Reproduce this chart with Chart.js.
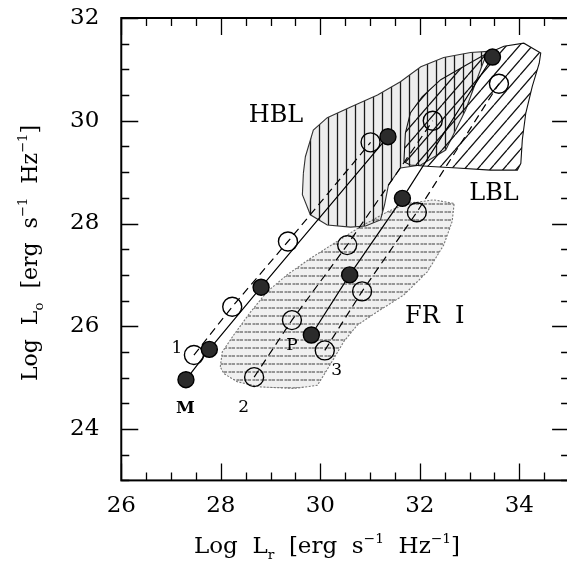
<!DOCTYPE html>
<html lang="en">
  <head>
    <meta charset="utf-8">
    <title>Log Lo vs Log Lr</title>
    <style> body {padding: 0; margin: 0; overflow: hidden; background: #fff;} </style>
    <script src="https://cdn.jsdelivr.net/npm/chart.js@4.4.0/dist/chart.umd.min.js"></script>
  </head>
  <body>
    <canvas id="lumChart" width="580" height="561"></canvas>
    <script>

      // evolutionary tracks, log L_r vs log L_o
      var trackMLr = [27.30, 27.77, 28.81, 31.36];
      var trackMLo = [24.96, 25.55, 26.76, 29.69];
      var trackPLr = [29.82, 30.59, 31.65, 33.46];
      var trackPLo = [25.83, 27.00, 28.49, 31.24];
      var track1Lr = [27.46, 28.23, 29.35, 31.01];
      var track1Lo = [25.44, 26.38, 27.65, 29.58];
      var track2Lr = [28.67, 29.43, 30.54, 32.26];
      var track2Lo = [25.01, 26.12, 27.58, 30.00];
      var track3Lr = [30.09, 30.84, 31.94, 33.59];
      var track3Lo = [25.53, 26.68, 28.22, 30.72];

      // source class regions (outlines)
      var hblLr = [29.66, 29.70, 29.86, 30.14, 30.61, 31.15, 31.61, 32.02, 32.48, 33.02, 33.36, 33.18,
                   32.92, 32.52, 32.02, 31.61, 31.37, 31.29, 31.21, 30.91, 30.61, 30.14, 29.80, 29.64];
      var hblLo = [28.98, 29.30, 29.82, 30.06, 30.27, 30.50, 30.76, 31.05, 31.23, 31.33, 31.35, 30.89,
                   30.21, 29.43, 29.14, 29.08, 28.75, 28.36, 28.07, 27.95, 27.93, 27.97, 28.17, 28.56];
      var lblLr = [31.68, 31.71, 31.81, 32.05, 32.42, 32.89, 33.29, 33.69, 34.09, 34.43, 34.40, 34.26,
                   34.13, 34.06, 34.03, 33.96, 33.42, 32.75, 32.22, 31.81];
      var lblLo = [29.20, 29.76, 30.15, 30.47, 30.80, 31.06, 31.28, 31.45, 31.51, 31.32, 31.12, 30.67,
                   30.15, 29.63, 29.17, 29.04, 29.04, 29.08, 29.11, 29.14];
      var fr1Lr = [27.99, 28.03, 28.26, 28.60, 28.93, 29.33, 29.80, 30.27, 30.81, 31.35, 31.75, 32.28,
                   32.69, 32.65, 32.48, 32.15, 31.68, 31.14, 30.74, 30.47, 30.27, 30.07, 29.94, 29.47,
                   28.80, 28.33, 28.06];
      var fr1Lo = [25.21, 25.50, 25.83, 26.28, 26.67, 27.00, 27.32, 27.61, 27.94, 28.23, 28.39, 28.46,
                   28.39, 28.04, 27.58, 27.06, 26.61, 26.28, 26.02, 25.70, 25.37, 25.05, 24.85, 24.79,
                   24.82, 24.92, 25.08];

      var regionNames = ['HBL', 'LBL', 'FR  I'];
      var regionLr = [29.11, 33.49, 32.30];
      var regionLo = [30.10, 28.57, 26.18];

      var tagNames = ['M', '1', '2', 'P', '3'];
      var tagLr = [27.29, 27.12, 28.46, 29.43, 30.33];
      var tagLo = [24.40, 25.57, 24.42, 25.63, 25.14];

      var xTickLabels = [26, 28, 30, 32, 34];
      var yTickLabels = [24, 26, 28, 30, 32];

      var serif = '"DejaVu Serif", serif';
      Chart.defaults.color = '#000';

      function pts(xs, ys) {
        var out = [];
        for (i = 0; i < xs.length; i++) out.push({x: xs[i], y: ys[i]});
        return out;
      }
      function loop(xs, ys) {
        var p = pts(xs, ys);
        p.push(p[0]);
        return p;
      }

      var ctx = document.getElementById('lumChart').getContext('2d');

      // hatch tiles
      function hatch(kind, w, h, color, lw, bg, dash) {
        var c = document.createElement('canvas');
        c.width = w; c.height = h;
        var g = c.getContext('2d');
        if (bg) { g.fillStyle = bg; g.fillRect(0, 0, w, h); }
        g.strokeStyle = color;
        g.lineWidth = lw;
        if (dash) g.setLineDash(dash);
        g.beginPath();
        if (kind === 'v') {
          g.moveTo(w / 2, 0); g.lineTo(w / 2, h);
        } else if (kind === 'h') {
          g.moveTo(0, h / 2); g.lineTo(w, h / 2);
        } else {
          g.moveTo(-w, h); g.lineTo(0, 0);
          g.moveTo(0, h); g.lineTo(w, 0);
          g.moveTo(w, h); g.lineTo(2 * w, 0);
        }
        g.stroke();
        return ctx.createPattern(c, 'repeat');
      }

      function region(label, data, pattern, edge, dash) {
        return {
          label: label, data: data, order: 10,
          borderColor: edge, borderWidth: 1.1, borderDash: dash || [],
          backgroundColor: pattern, fill: 'shape',
          pointRadius: 0, tension: 0
        };
      }

      function track(label, data, filled) {
        return {
          label: label, data: data, order: filled ? 2 : 3,
          borderColor: '#000', borderWidth: 1.2,
          borderDash: filled ? [] : [8, 5],
          fill: false, tension: 0,
          pointRadius: filled ? 8 : 9.5,
          pointBorderWidth: 1.4,
          pointBorderColor: '#000',
          pointBackgroundColor: filled ? '#2b2b2b' : 'rgba(0,0,0,0)'
        };
      }

      // inward ticks on all four sides plus the frame
      var frameTicks = {
        id: 'frameTicks',
        afterDraw: function(chart) {
          var a = chart.chartArea, g = chart.ctx;
          var sx = chart.scales.x, sy = chart.scales.y;
          g.save();
          g.strokeStyle = '#000';
          g.lineWidth = 1.3;
          g.beginPath();
          for (var v = sx.min; v <= sx.max + 1e-6; v += 0.5) {
            var px = Math.round(sx.getPixelForValue(v)) + 0.5;
            var len = (Math.abs(v % 2) < 1e-6) ? 17 : 8;
            g.moveTo(px, a.bottom); g.lineTo(px, a.bottom - len);
            g.moveTo(px, a.top); g.lineTo(px, a.top + len);
          }
          for (var w = sy.min; w <= sy.max + 1e-6; w += 0.5) {
            var py = Math.round(sy.getPixelForValue(w)) + 0.5;
            var l2 = (Math.abs(w % 2) < 1e-6) ? 17 : 8;
            g.moveTo(a.left, py); g.lineTo(a.left + l2, py);
            g.moveTo(a.right, py); g.lineTo(a.right - l2, py);
          }
          g.stroke();
          g.lineWidth = 2;
          g.strokeRect(a.left, a.top, a.right - a.left, a.bottom - a.top);
          g.restore();
        }
      };

      // draw text made of normal / super / subscript pieces
      function richText(g, parts, size) {
        var total = 0;
        parts.forEach(function(p) {
          g.font = (p[1] ? size * 0.6 : size) + 'px ' + serif;
          total += g.measureText(p[0]).width;
        });
        var x = -total / 2;
        parts.forEach(function(p) {
          g.font = (p[1] ? size * 0.6 : size) + 'px ' + serif;
          var dy = p[1] < 0 ? -size * 0.45 : (p[1] > 0 ? size * 0.28 : 0);
          g.fillText(p[0], x, dy);
          x += g.measureText(p[0]).width;
        });
      }

      var annotations = {
        id: 'annotations',
        afterDatasetsDraw: function(chart) {
          var g = chart.ctx, sx = chart.scales.x, sy = chart.scales.y;
          g.save();
          g.fillStyle = '#000';
          g.textAlign = 'center';
          g.textBaseline = 'middle';
          g.font = '24px ' + serif;
          for (i = 0; i < regionNames.length; i++) {
            g.fillText(regionNames[i], sx.getPixelForValue(regionLr[i]), sy.getPixelForValue(regionLo[i]));
          }
          for (i = 0; i < tagNames.length; i++) {
            g.font = (tagNames[i] === 'M' ? 'bold ' : '') + '17px ' + serif;
            g.fillText(tagNames[i], sx.getPixelForValue(tagLr[i]), sy.getPixelForValue(tagLo[i]));
          }
          g.restore();
        },
        afterDraw: function(chart) {
          var g = chart.ctx;
          g.save();
          g.fillStyle = '#000';
          g.textAlign = 'left';
          g.textBaseline = 'alphabetic';
          g.translate(327, 553);
          richText(g, [['Log  L', 0], ['r', 1], ['  [erg  s', 0], ['\u22121', -1], ['  Hz', 0], ['\u22121', -1], [']', 0]], 23);
          g.restore();
          g.save();
          g.fillStyle = '#000';
          g.translate(37, 253);
          g.rotate(-Math.PI / 2);
          richText(g, [['Log  L', 0], ['o', 1], ['  [erg  s', 0], ['\u22121', -1], ['  Hz', 0], ['\u22121', -1], [']', 0]], 22);
          g.restore();
        }
      };

      var datasets = [
        region('FR I', loop(fr1Lr, fr1Lo), hatch('h', 8, 8, '#3a3a3a', 1, 'rgba(0,0,0,0.06)', [3, 1.5]), '#777', [2, 1.5]),
        region('HBL', loop(hblLr, hblLo), hatch('v', 9, 9, '#1a1a1a', 1.3, 'rgba(0,0,0,0.07)'), '#333'),
        region('LBL', loop(lblLr, lblLo), hatch('d', 13, 15, '#111', 1.3), '#111'),
        track('M', pts(trackMLr, trackMLo), true),
        track('P', pts(trackPLr, trackPLo), true),
        track('1', pts(track1Lr, track1Lo), false),
        track('2', pts(track2Lr, track2Lo), false),
        track('3', pts(track3Lr, track3Lo), false)
      ];
      // keep LBL above HBL so the overlap is cross-hatched
      datasets[0].order = 12;
      datasets[1].order = 11;

      new Chart(ctx, {
        type: 'line',
        data: { datasets: datasets },
        options: {
          responsive: false,
          animation: false,
          events: [],
          layout: { padding: { left: 48, top: 18, right: 9, bottom: 29 } },
          plugins: { legend: { display: false }, tooltip: { enabled: false } },
          scales: {
            x: {
              type: 'linear', min: 26, max: 35,
              grid: { display: false, drawTicks: false },
              border: { display: false },
              ticks: { font: { family: serif, size: 23 }, padding: 12, maxRotation: 0 },
              afterBuildTicks: function(axis) { axis.ticks = xTickLabels.map(function(v) { return {value: v}; }); }
            },
            y: {
              type: 'linear', min: 23, max: 32,
              grid: { display: false, drawTicks: false },
              border: { display: false },
              ticks: { font: { family: serif, size: 23 }, padding: 22 },
              afterBuildTicks: function(axis) { axis.ticks = yTickLabels.map(function(v) { return {value: v}; }); },
              // the end labels may stick out of the frame, no need to reserve room for them
              afterFit: function(axis) { axis.paddingTop = 0; axis.paddingBottom = 0; }
            }
          }
        },
        plugins: [frameTicks, annotations]
      });
    </script>
  </body>
</html>
